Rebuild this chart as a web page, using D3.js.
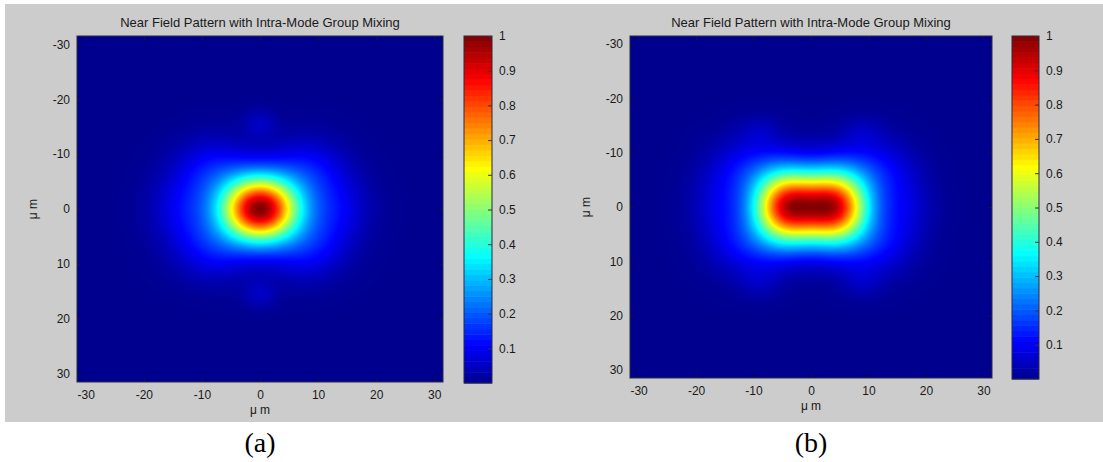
<!DOCTYPE html>
<html>
<head>
<meta charset="utf-8">
<script src="https://cdn.jsdelivr.net/npm/d3@7/dist/d3.min.js"></script>
<style>
  body { margin: 0; background: #fff; }
  text { font-family: Arial, "Liberation Sans", sans-serif; }
</style>
</head>
<body>
<svg id="fig" width="1103" height="462"></svg>
<script>
// ---- data -------------------------------------------------------------
const titleText = "Near Field Pattern with Intra-Mode Group Mixing";
const axisLabel = "\u03bc m";
const panelTags = ["(a)", "(b)"];
const axisTicks = [-30, -20, -10, 0, 10, 20, 30];
const colorTicks = [0.1, 0.2, 0.3, 0.4, 0.5, 0.6, 0.7, 0.8, 0.9, 1];
const fieldExtent = [-31.5, 31.5];   // µm, both axes
const colorExtent = [0, 1];

// Near-field intensity built from mode-group spots:
// amplitude, centre x, centre y (µm), 1/e² radius along x and y (µm)
const ampA = [1.00, 0.11, 0.11, 0.11, 0.11, 0.09, 0.09, 0.05, 0.05];
const cxA  = [0, -8, 8, -8, 8, -13, 13, 0, 0];
const cyA  = [0, -7, -7, 7, 7, 0, 0, -15.5, 15.5];
const wxA  = [9.3, 9, 9, 9, 9, 8, 8, 4, 4];
const wyA  = [8.2, 8, 8, 8, 8, 9, 9, 3.5, 3.5];

const ampB = [1.00, 1.00, 0.12, 0.12, 0.12, 0.12, 0.08, 0.08, 0.04, 0.04, 0.04, 0.04];
const cxB  = [-4.2, 4.2, -11, 11, -11, 11, -16, 16, -9, 9, -9, 9];
const cyB  = [0, 0, -7, -7, 7, 7, 0, 0, -14, -14, 14, 14];
const wxB  = [8.2, 8.2, 9, 9, 9, 9, 7, 7, 5, 5, 5, 5];
const wyB  = [9.3, 9.3, 8, 8, 8, 8, 9, 9, 4, 4, 4, 4];

// ---- layout -----------------------------------------------------------
const panels = [
  { tag: panelTags[0], amp: ampA, cx: cxA, cy: cyA, wx: wxA, wy: wyA,
    plot: { x0: 77, x1: 443, y0: 36, y1: 382 },
    bar:  { x0: 464, x1: 492, y0: 36, y1: 383 } },
  { tag: panelTags[1], amp: ampB, cx: cxB, cy: cyB, wx: wxB, wy: wyB,
    plot: { x0: 630, x1: 992, y0: 36, y1: 378 },
    bar:  { x0: 1012, x1: 1039, y0: 36, y1: 379 } }
];

// MATLAB-style jet colour map
const jet = d3.scaleLinear()
  .domain([0, 0.111, 0.365, 0.619, 0.873, 1])
  .range(["#00008f", "#0000ff", "#00ffff", "#ffff00", "#ff0000", "#800000"])
  .interpolate(d3.interpolateRgb)
  .clamp(true);

const svg = d3.select("#fig");
const textColor = "#1a1a1a";
const intFormat = d => String(d);   // plain hyphen-minus like the original plots

// figure background
svg.append("rect").attr("x", 5).attr("y", 4).attr("width", 1098).attr("height", 418)
  .attr("fill", "#cccccc");

function intensity(p, x, y) {
  let s = 0;
  for (let i = 0; i < p.amp.length; i++) {
    const dx = (x - p.cx[i]) / p.wx[i];
    const dy = (y - p.cy[i]) / p.wy[i];
    s += p.amp[i] * Math.exp(-2 * (dx * dx + dy * dy));
  }
  return s;
}

panels.forEach(p => {
  const { x0, x1, y0, y1 } = p.plot;
  const x = d3.scaleLinear().domain(fieldExtent).range([x0, x1]);
  const y = d3.scaleLinear().domain(fieldExtent).range([y0, y1]);
  const w = x1 - x0, h = y1 - y0;

  // find the peak so the map is normalised to 1
  let peak = 0;
  for (let j = 0; j < h; j += 1) for (let i = 0; i < w; i += 1) {
    const v = intensity(p, x.invert(x0 + i + 0.5), y.invert(y0 + j + 0.5));
    if (v > peak) peak = v;
  }
  const norm = d3.scaleLinear().domain([0, peak]).range(colorExtent);

  const canvas = document.createElement("canvas");
  canvas.width = w; canvas.height = h;
  const ctx = canvas.getContext("2d");
  const img = ctx.createImageData(w, h);
  for (let j = 0; j < h; j++) {
    const yv = y.invert(y0 + j + 0.5);
    for (let i = 0; i < w; i++) {
      const v = norm(intensity(p, x.invert(x0 + i + 0.5), yv));
      const c = d3.rgb(jet(v));
      const k = (j * w + i) * 4;
      img.data[k] = c.r; img.data[k + 1] = c.g; img.data[k + 2] = c.b; img.data[k + 3] = 255;
    }
  }
  ctx.putImageData(img, 0, 0);

  svg.append("image")
    .attr("x", x0).attr("y", y0).attr("width", w).attr("height", h)
    .attr("preserveAspectRatio", "none")
    .attr("href", canvas.toDataURL());

  // axes
  const gx = svg.append("g").attr("transform", `translate(0,${y1})`)
    .call(d3.axisBottom(x).tickValues(axisTicks).tickSize(-4).tickPadding(8).tickFormat(intFormat));
  const gy = svg.append("g").attr("transform", `translate(${x0},0)`)
    .call(d3.axisLeft(y).tickValues(axisTicks).tickSize(-4).tickPadding(7).tickFormat(intFormat));
  [gx, gy].forEach(g => {
    g.select(".domain").remove();
    g.selectAll(".tick line").attr("stroke", "#10104a");
    g.selectAll("text").attr("fill", textColor).style("font-size", "12px");
  });
  // top/right ticks like the box axes
  svg.append("g").attr("transform", `translate(0,${y0})`)
    .call(d3.axisTop(x).tickValues(axisTicks).tickSize(-4).tickFormat(""))
    .call(g => { g.select(".domain").remove(); g.selectAll("line").attr("stroke", "#10104a"); });
  svg.append("g").attr("transform", `translate(${x1},0)`)
    .call(d3.axisRight(y).tickValues(axisTicks).tickSize(-4).tickFormat(""))
    .call(g => { g.select(".domain").remove(); g.selectAll("line").attr("stroke", "#10104a"); });

  svg.append("rect").attr("x", x0).attr("y", y0).attr("width", w).attr("height", h)
    .attr("fill", "none").attr("stroke", "#2a2a40").attr("stroke-width", 1);

  // title and axis labels
  const cxp = (x0 + x1) / 2;
  svg.append("text").attr("x", cxp).attr("y", 27).attr("text-anchor", "middle")
    .attr("fill", textColor).style("font-size", "13px").text(titleText);
  svg.append("text").attr("x", cxp).attr("y", y1 + 32).attr("text-anchor", "middle")
    .attr("fill", textColor).style("font-size", "12px").text(axisLabel);
  svg.append("text")
    .attr("transform", `translate(${x0 - 40},${(y0 + y1) / 2}) rotate(-90)`)
    .attr("text-anchor", "middle").attr("fill", textColor).style("font-size", "12px").text(axisLabel);

  // panel tag
  svg.append("text").attr("x", cxp).attr("y", 452).attr("text-anchor", "middle")
    .style("font-family", "'Liberation Serif','Times New Roman',serif").style("font-size", "28px")
    .attr("fill", "#000").text(p.tag);

  // colour bar
  const b = p.bar;
  const cy = d3.scaleLinear().domain(colorExtent).range([b.y1, b.y0]);
  const nBands = 64;
  const bands = d3.range(nBands).map(i => i / nBands);
  svg.append("g").selectAll("rect").data(bands).join("rect")
    .attr("x", b.x0).attr("width", b.x1 - b.x0)
    .attr("y", d => cy(d + 1 / nBands))
    .attr("height", d => cy(d) - cy(d + 1 / nBands) + 0.5)
    .attr("fill", d => jet(d + 0.5 / nBands));
  svg.append("rect").attr("x", b.x0).attr("y", b.y0).attr("width", b.x1 - b.x0).attr("height", b.y1 - b.y0)
    .attr("fill", "none").attr("stroke", "#2a2a40").attr("stroke-width", 1);
  const gc = svg.append("g").attr("transform", `translate(${b.x1},0)`)
    .call(d3.axisRight(cy).tickValues(colorTicks).tickSize(-4).tickPadding(7).tickFormat(d => d === 1 ? "1" : d3.format(".1f")(d)));
  gc.select(".domain").remove();
  gc.selectAll(".tick line").attr("stroke", "#333");
  gc.selectAll("text").attr("fill", textColor).style("font-size", "12px");
});
</script>
</body>
</html>
